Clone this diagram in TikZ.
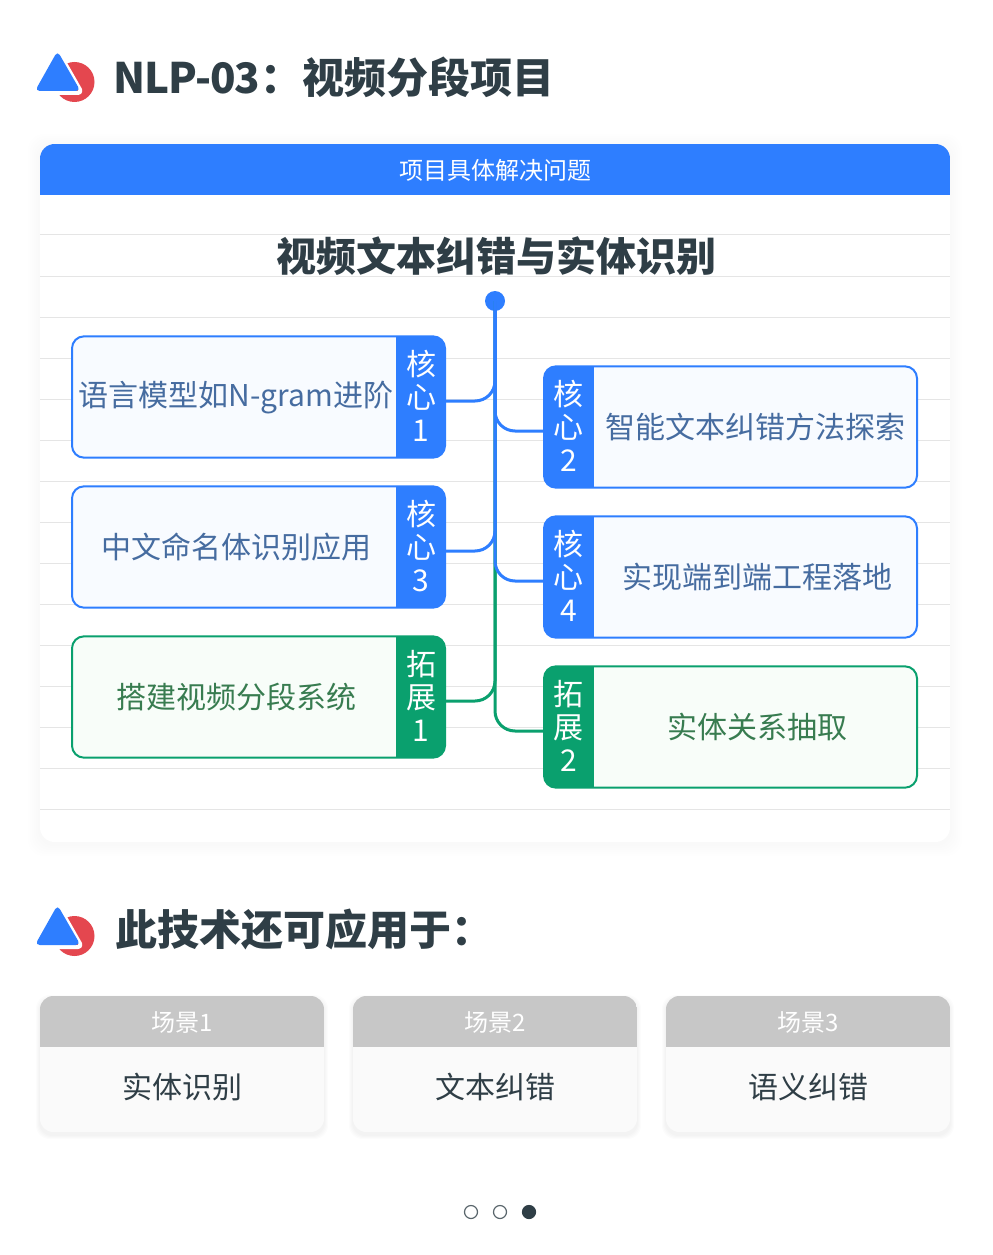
\documentclass[tikz,border=0pt]{standalone}
\usepackage{fontspec}
\setmainfont{Noto Sans CJK SC}
\usepackage{tikz}
\usetikzlibrary{arrows.meta, positioning, calc}
\definecolor{accent}{RGB}{46,126,255}
\definecolor{softgreen}{RGB}{10,160,110}
\definecolor{logored}{RGB}{228,71,79}
\definecolor{ink}{RGB}{47,62,70}
\definecolor{bluetext}{RGB}{70,108,160}
\definecolor{greentext}{RGB}{56,124,80}
\definecolor{bluebg}{RGB}{248,251,255}
\definecolor{greenbg}{RGB}{248,253,249}
\definecolor{rulegrey}{RGB}{229,229,229}
\definecolor{scenegrey}{RGB}{199,199,199}
\definecolor{scenebg}{RGB}{250,250,250}
\tikzset{
  topicbox/.style={draw=#1, line width=1.5pt, rounded corners=9pt, outer sep=0pt,
    minimum width=279.75pt, minimum height=91pt},
  tabright/.style={path picture={\fill[#1, sharp corners] (path picture bounding box.north east) rectangle ++(-49.5,130);}},
  tableft/.style={path picture={\fill[#1, sharp corners] (path picture bounding box.north west) rectangle ++(49.5,130);}},
  tabtext/.style={text=white, font=\fontsize{22.5}{24.75}\selectfont, align=center, inner sep=0pt, outer sep=0pt,
    minimum width=37.5pt, minimum height=91.5pt},
  boxtext/.style={font=\fontsize{22.5}{27}\selectfont, inner sep=0pt, anchor=base},
  link/.style={line width=2.25pt, rounded corners=15pt},
  pagedot/.style={circle, draw=#1, line width=.9pt, minimum size=9.75pt, inner sep=0pt},
  heading/.style={anchor=west, text=ink, font=\fontsize{31.5}{36}\selectfont\bfseries, inner sep=0pt},
  logo/.pic={
    \fill[logored] (74.5,82) circle (20);
    \draw[white, line width=3pt, line join=round, rounded corners=3pt] (57.5,50) -- (82,93) -- (33,93) -- cycle;
    \fill[accent, rounded corners=3.5pt] (57.5,51) -- (80.5,91) -- (35,91) -- cycle;
  }
}
\begin{document}
\begin{tikzpicture}[x=.75pt, y=-.75pt]
  \useasboundingbox (0,0) rectangle (992,1255);
  \fill[white] (0,0) rectangle (992,1255);
  % heading
  \pic at (0,0) {logo};
  \node[heading] (title) at (113,77) {{\addfontfeature{LetterSpace=-2.5}NLP-03}：视频分段项目};
  % main card
  \foreach \s in {1,...,6}
    \fill[black, opacity=.004, rounded corners=12pt] (40-2*\s,144-2*\s+2) rectangle (950+2*\s,842+2*\s+2);
  \node[fill=white, rounded corners=11pt, outer sep=0pt, minimum width=682.5pt, minimum height=523.5pt,
    path picture={\fill[accent, sharp corners] (path picture bounding box.north west) rectangle ++(910,51);}] (card) at (495,493) {};
  \foreach \y in {235,276,...,809}
    \draw[rulegrey, line width=.75pt] (40,\y) -- (950,\y);
  \node[text=white, font=\fontsize{18}{22}\selectfont, inner sep=0pt] (cardhead) at (495,170) {项目具体解决问题};
  \node[text=ink, font=\fontsize{30}{36}\selectfont\bfseries, inner sep=0pt] (topic) at (496,256) {视频文本纠错与实体识别};
  \node[circle, fill=accent, minimum size=15pt, inner sep=0pt] (root) at (495,301) {};
  % left boxes
  \foreach \name/\y/\ty/\col/\bg/\fg/\tab/\txt in {
    core1/397/406/accent/bluebg/bluetext/核\\心\\1/语言模型如N-gram进阶,
    core3/547/558/accent/bluebg/bluetext/核\\心\\3/中文命名体识别应用,
    ext1/697/708/softgreen/greenbg/greentext/拓\\展\\1/搭建视频分段系统} {
    \node[topicbox=\col, fill=\bg, tabright=\col] (\name box) at (258.5,\y) {};
    \node[tabtext] (\name) at (421,\y-1) {\tab};
    \node[boxtext, text=\fg] (\name text) at (236,\ty) {\txt};
  }
  % right boxes
  \foreach \name/\y/\tx/\col/\bg/\fg/\tab/\txt in {
    core2/427/755/accent/bluebg/bluetext/核\\心\\2/智能文本纠错方法探索,
    core4/577/757/accent/bluebg/bluetext/核\\心\\4/实现端到端工程落地,
    ext2/727/757/softgreen/greenbg/greentext/拓\\展\\2/实体关系抽取} {
    \node[topicbox=\col, fill=\bg, tableft=\col] (\name box) at (730.5,\y) {};
    \node[tabtext] (\name) at (568.5,\y-1) {\tab};
    \node[boxtext, text=\fg] (\name text) at (\tx,\y+11) {\txt};
  }
  % links from the dot
  \draw[link, softgreen] (root.center) |- ($(ext1.east)+(0,5)$);
  \draw[link, softgreen] (root.center) |- ($(ext2.west)+(0,5)$);
  \draw[link, accent] (root.center) |- ($(core1.east)+(0,5)$);
  \draw[link, accent] (root.center) |- ($(core3.east)+(0,5)$);
  \draw[link, accent] (root.center) |- ($(core2.west)+(0,5)$);
  \draw[link, accent] (root.center) |- ($(core4.west)+(0,5)$);
  % second heading
  \pic at (0,854) {logo};
  \node[heading] (subtitle) at (115,930) {此技术还可应用于：};
  % scene cards
  \foreach \name/\x/\head/\txt in {scene1/182/场景1/实体识别, scene2/495/场景2/文本纠错, scene3/808/场景3/语义纠错} {
    \foreach \s in {1,...,4}
      \fill[black, opacity=.012, rounded corners=10pt] (\x-142-\s,996-\s+3) rectangle (\x+142+\s,1132+\s+3);
    \node[fill=scenebg, rounded corners=10pt, outer sep=0pt, minimum width=213pt, minimum height=102pt,
      path picture={\fill[scenegrey, sharp corners] (path picture bounding box.north west) rectangle ++(284,51);}] (\name) at (\x,1064) {};
    \node[text=white, font=\fontsize{18}{20}\selectfont, inner sep=0pt] (\name head) at (\x,1023) {\head};
    \node[text=ink, font=\fontsize{22.5}{27}\selectfont, inner sep=0pt] (\name text) at (\x,1087) {\txt};
  }
  % page dots
  \node[pagedot=ink!80] (dot1) at (471,1212) {};
  \node[pagedot=ink!80] (dot2) at (500,1212) {};
  \node[pagedot=ink, fill=ink] (dot3) at (529,1212) {};
\end{tikzpicture}
\end{document}
